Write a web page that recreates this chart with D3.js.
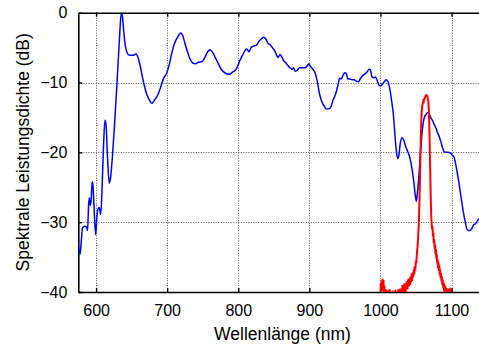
<!DOCTYPE html>
<html><head><meta charset="utf-8">
<script src="https://cdn.jsdelivr.net/npm/d3@7"></script>
<style>
html,body{margin:0;padding:0;background:#fff;overflow:hidden}
text{font-family:"Liberation Sans",Arial,sans-serif;fill:#000}
</style></head>
<body>
<script>
// ---- data ----
const xTicks = [600, 700, 800, 900, 1000, 1100];
const yTicks = [0, -10, -20, -30, -40];
const xLabel = "Wellenlänge (nm)";
const yLabel = "Spektrale Leistungsdichte (dB)";

const blueNm = [575,577.5,579,581,584,586.5,588,589.5,590.5,591.8,593,594.5,595.5,597,599.5,601,602.5,604.5,606.5,608.5,610.5,612.5,614,616,618.5,620.5,623,626,629.5,633,635.5,637,639,641,643.5,647,652,656,659,662,665,668,671,674.5,678.5,681,685,688,691,695,699.5,703,706.5,709,712.5,716,719,722,725,728,732,736,740,744,749,753,757,760.5,764,768,772,776,781,787,792,796,799,802,805,808,811,813,815,818,821,826,829,832,835.5,839,842,845,848,851,854,856,859,861,864,867,870,873,876,878,880,882.5,886,890,894,897,899,901,905,908,911,914,917,921,924,929,933,937,940,942.5,945,947.5,950,952,954,957,960,963,966,969,972,975,978,981,984,986,988,990.5,993,995,998,1000,1003,1006,1008,1010.5,1013,1015.5,1018,1020,1022,1024.3,1026,1028,1030.5,1033,1035.5,1038,1040,1042.5,1045,1047,1049,1050.5,1052,1054,1056,1058,1060,1062,1064,1066.5,1068.5,1070.5,1073,1075.5,1078,1080,1082.5,1085,1087.5,1089.5,1092,1095,1098.5,1101,1103.5,1106,1108.5,1111,1113.5,1116,1118.5,1121,1123.5,1126,1128.5,1131,1134,1137,1140];
const blueDb = [-33.2,-34.6,-33,-30.8,-30.6,-30.7,-31.2,-27.5,-26.5,-27.6,-27.0,-24.2,-24.6,-27.5,-31.8,-29.5,-28.2,-27.9,-28.9,-25,-19,-15.4,-16.0,-20.5,-24.4,-23.5,-20.6,-16,-10,-3.5,0,-0.5,-2.8,-4.6,-5.7,-6.1,-6.1,-5.9,-6.4,-7.6,-9.1,-10.5,-11.6,-12.4,-13.0,-12.7,-12.1,-11.5,-10.6,-9.4,-8.6,-7.4,-5.8,-4.8,-3.9,-3.3,-2.9,-3.3,-4.4,-5.4,-6.6,-7.2,-7.3,-7.1,-7.0,-6.4,-5.6,-5.3,-5.7,-6.5,-7.3,-8.1,-8.6,-8.8,-8.5,-8.2,-7.7,-6.9,-6.3,-5.7,-5.2,-5.3,-5.6,-5.0,-4.8,-4.6,-4.1,-3.8,-3.5,-3.8,-4.4,-4.6,-5.0,-5.4,-6.1,-6.4,-6.0,-6.3,-6.9,-7.2,-7.6,-7.9,-8.1,-7.9,-8.4,-8.3,-7.9,-7.9,-7.9,-7.6,-7.3,-7.6,-8.1,-8.6,-9.8,-11.5,-12.6,-13.4,-13.8,-13.7,-12.6,-11.6,-10.5,-9.4,-9.5,-8.9,-8.6,-8.7,-9.5,-9.5,-9.6,-9.6,-9.8,-9.9,-9.4,-9.0,-8.8,-8.5,-8.1,-8.2,-9.2,-9.3,-9.2,-9.6,-10.4,-10.5,-10.2,-9.8,-9.6,-9.9,-10.8,-12.5,-14.4,-17,-19.5,-20.9,-20.4,-18.6,-17.9,-18.3,-19.2,-19.8,-20.3,-21.3,-22.8,-24.3,-26.2,-27.0,-25.8,-23.5,-20.5,-17.8,-15.9,-14.9,-14.6,-14.3,-14.5,-15.0,-15.4,-16.0,-16.5,-17.1,-17.7,-18.5,-19.4,-19.9,-20.0,-20.0,-20.1,-20.4,-20.7,-21.8,-23.2,-24.8,-26.5,-28.2,-29.6,-30.8,-31.2,-31.2,-30.9,-30.4,-30.2,-29.7,-29.4];

const redNm = [1000,1000.3,1001,1001.8,1002.5,1003,1003.7,1004.3,1005,1005.6,1006.3,1007,1007.6,1008.5,1009.3,1010.5,1011.5,1013,1014,1016,1017,1018,1020,1021,1022,1024,1025,1026,1028,1029,1031,1032,1033,1034,1035,1036,1037,1038,1039,1040,1040.8,1041.5,1042.3,1043,1043.8,1044.5,1045.3,1046,1046.8,1047.5,1048.2,1049,1049.7,1050.4,1051,1051.7,1052.4,1053,1053.7,1054.3,1055,1055.6,1056.2,1056.8,1057.4,1058,1058.7,1059.5,1060.3,1061,1061.8,1062.6,1063.5,1064.3,1065,1065.8,1066.5,1067.2,1067.8,1068.4,1069,1069.6,1070.2,1070.8,1071.4,1072,1072.6,1073.2,1073.8,1074.4,1075,1075.6,1076.2,1076.8,1077.4,1078,1078.6,1079.2,1079.8,1080.4,1081,1081.6,1082.2,1082.8,1083.4,1084,1084.6,1085.2,1085.8,1086.4,1087,1087.6,1088.2,1088.8,1089.4,1090,1090.6,1091.2,1091.8,1092.5,1093.2,1094,1094.8,1095.6,1096.4,1097.2,1098,1098.6,1099.2,1100];
const redDb = [-42,-38.8,-39.5,-38.4,-39.8,-38.1,-39.2,-38.3,-40.5,-39.1,-41,-39.6,-42,-39.7,-42,-39.8,-42,-39.6,-42,-42,-39.8,-42,-42,-39.7,-42,-42,-39.6,-42,-39.5,-42,-39.0,-41,-39.2,-38.8,-40.5,-39.0,-38.5,-39.6,-38.2,-39.2,-38.0,-39.0,-37.8,-38.6,-37.4,-38.4,-37.2,-37.9,-36.8,-37.5,-36.3,-36.9,-35.6,-35.9,-34.8,-34.0,-33.2,-32.0,-30.8,-29.0,-26.5,-23.5,-20.5,-17.8,-15.6,-14.2,-13.4,-13.0,-12.6,-12.7,-12.3,-12.2,-11.9,-11.8,-11.9,-11.9,-12.2,-12.6,-13.5,-15.0,-17.5,-20.5,-23.8,-26.8,-29.0,-30.2,-31.0,-30.6,-32.0,-31.5,-33.0,-32.4,-33.8,-33.2,-34.6,-33.8,-35.2,-34.6,-35.9,-35.3,-36.6,-35.8,-37.0,-36.2,-37.6,-36.8,-38.0,-37.3,-38.5,-37.8,-39.0,-38.2,-39.4,-38.6,-39.8,-38.9,-40.5,-39.2,-41,-39.4,-41.5,-39.6,-42,-39.5,-42,-39.6,-41,-39.4,-42,-42];

// ---- chart ----
const W = 479, H = 347;
const L = 78.3, R = 480, T = 12.7, B = 292;
const svg = d3.select("body").append("svg").attr("width", W).attr("height", H);

const x = d3.scaleLinear().domain([575, 1140]).range([L, R]);
const y = d3.scaleLinear().domain([-40, 0]).range([B, T]);

svg.append("defs").append("clipPath").attr("id", "clip")
  .append("rect").attr("x", L).attr("y", T).attr("width", R - L).attr("height", B - T);

// grid
const grid = svg.append("g").attr("stroke", "#555").attr("stroke-width", 1).attr("stroke-dasharray", "1,1.5");
grid.selectAll("line.v").data(xTicks).join("line")
  .attr("x1", d => Math.round(x(d)) + 0.5).attr("x2", d => Math.round(x(d)) + 0.5)
  .attr("y1", T).attr("y2", B);
grid.selectAll("line.h").data(yTicks.filter(d => d > -40 && d < 0)).join("line")
  .attr("y1", d => Math.round(y(d)) + 0.5).attr("y2", d => Math.round(y(d)) + 0.5)
  .attr("x1", L).attr("x2", R);

// axes (ticks inward on all sides)
const fmt = d => d < 0 ? "\u2212" + Math.abs(d) : String(d);
const xb = svg.append("g").attr("transform", `translate(0,${B})`)
  .call(d3.axisBottom(x).tickValues(xTicks).tickSizeInner(-4).tickSizeOuter(0).tickPadding(13).tickFormat(fmt));
const xt = svg.append("g").attr("transform", `translate(0,${T})`)
  .call(d3.axisTop(x).tickValues(xTicks).tickSizeInner(-4).tickSizeOuter(0).tickFormat(""));
const yl = svg.append("g").attr("transform", `translate(${L},0)`)
  .call(d3.axisLeft(y).tickValues(yTicks).tickSizeInner(-4).tickSizeOuter(0).tickPadding(11).tickFormat(fmt));
[xb, xt, yl].forEach(g => {
  g.select(".domain").attr("stroke", "#000").attr("stroke-width", 1.6);
  g.selectAll(".tick line").attr("stroke", "#000").attr("stroke-width", 1.4);
  g.selectAll("text").attr("font-size", 16).attr("font-family", "Liberation Sans, Arial, sans-serif").attr("fill", "#000");
});

// lines
const plot = svg.append("g").attr("clip-path", "url(#clip)");
plot.append("path").datum(d3.zip(blueNm, blueDb))
  .attr("d", d3.line().x(d => x(d[0])).y(d => y(d[1])).curve(d3.curveMonotoneX))
  .attr("fill", "none").attr("stroke", "#0000ff").attr("stroke-width", 1.5);
plot.append("path").datum(d3.zip(redNm, redDb))
  .attr("d", d3.line().x(d => x(d[0])).y(d => y(d[1])))
  .attr("fill", "none").attr("stroke", "#ff0000").attr("stroke-width", 2);

// labels
svg.append("text").attr("x", 282.5).attr("y", 340).attr("text-anchor", "middle").attr("font-size", 17.5).text(xLabel);
svg.append("text").attr("transform", `translate(28.5,${(T + B) / 2}) rotate(-90)`)
  .attr("text-anchor", "middle").attr("font-size", 17.5).text(yLabel);
</script>
</body></html>
